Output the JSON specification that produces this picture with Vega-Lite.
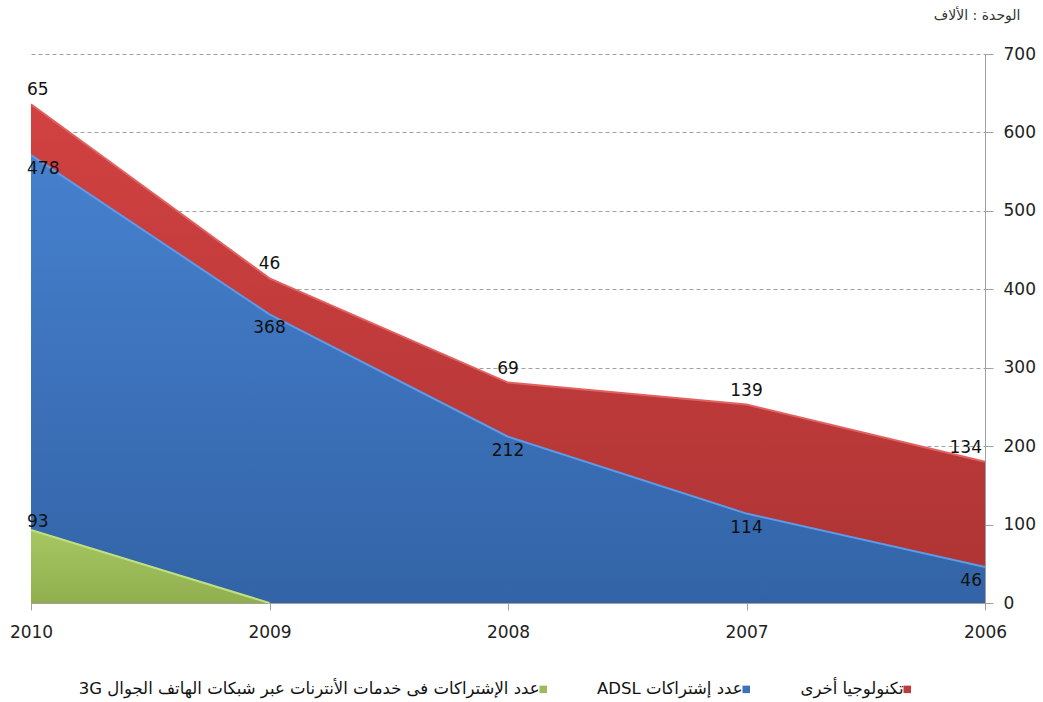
{
  "$schema": "https://vega.github.io/schema/vega-lite/v6.json",
  "autosize": "none",
  "width": 954,
  "height": 549,
  "padding": {"left": 31, "top": 54, "right": 58, "bottom": 99},
  "background": "white",
  "title": {
    "text": "\u202Bالوحدة : الألاف\u202C",
    "anchor": "end",
    "orient": "top",
    "offset": 22,
    "dx": -15,
    "fontSize": 14,
    "fontWeight": "normal",
    "font": "DejaVu Sans",
    "color": "#333333"
  },
  "config": {
    "view": {"stroke": null},
    "font": "DejaVu Sans"
  },
  "data": {
    "values": [
      {"year": 2010, "series": "عدد الإشتراكات فى خدمات الأنترنات عبر شبكات الهاتف الجوال 3G", "value": 93},
      {"year": 2010, "series": "عدد إشتراكات ADSL", "value": 478},
      {"year": 2010, "series": "تكنولوجيا أخرى", "value": 65},
      {"year": 2009, "series": "عدد الإشتراكات فى خدمات الأنترنات عبر شبكات الهاتف الجوال 3G", "value": 0},
      {"year": 2009, "series": "عدد إشتراكات ADSL", "value": 368},
      {"year": 2009, "series": "تكنولوجيا أخرى", "value": 46},
      {"year": 2008, "series": "عدد إشتراكات ADSL", "value": 212},
      {"year": 2008, "series": "تكنولوجيا أخرى", "value": 69},
      {"year": 2007, "series": "عدد إشتراكات ADSL", "value": 114},
      {"year": 2007, "series": "تكنولوجيا أخرى", "value": 139},
      {"year": 2006, "series": "عدد إشتراكات ADSL", "value": 46},
      {"year": 2006, "series": "تكنولوجيا أخرى", "value": 134}
    ]
  },
  "transform": [
    {"stack": "value", "groupby": ["year"], "as": ["y0", "y1"]}
  ],
  "encoding": {
    "x": {
      "field": "year",
      "type": "quantitative",
      "scale": {"domain": [2006, 2010], "reverse": true, "nice": false, "zero": false},
      "axis": {
        "title": null,
        "values": [2010, 2009, 2008, 2007, 2006],
        "format": "d",
        "grid": false,
        "labelFlush": false,
        "domainColor": "#A0A0A0",
        "tickColor": "#A0A0A0",
        "tickSize": 7,
        "labelPadding": 14,
        "labelFontSize": 17,
        "labelColor": "#222222",
        "labelFont": "DejaVu Sans"
      }
    },
    "y": {
      "field": "y1",
      "type": "quantitative",
      "scale": {"domain": [0, 700], "nice": false},
      "axis": {
        "title": null,
        "orient": "right",
        "values": [0, 100, 200, 300, 400, 500, 600, 700],
        "grid": true,
        "gridDash": [4, 3],
        "gridColor": "#A0A0A0",
        "domainColor": "#A0A0A0",
        "tickColor": "#A0A0A0",
        "tickSize": 8,
        "labelPadding": 10,
        "labelFontSize": 17,
        "labelColor": "#222222",
        "labelFont": "DejaVu Sans"
      }
    }
  },
  "layer": [
    {
      "mark": {"type": "area", "opacity": 1},
      "encoding": {
        "y2": {"field": "y0"},
        "color": {
          "field": "series",
          "type": "nominal",
          "scale": {
            "domain": ["عدد الإشتراكات فى خدمات الأنترنات عبر شبكات الهاتف الجوال 3G", "عدد إشتراكات ADSL", "تكنولوجيا أخرى"],
            "range": ["#9BBB59", "#3C72BC", "#C23B3B"]
          },
          "legend": {
            "title": null,
            "orient": "none",
            "legendX": 504,
            "legendY": 627,
            "direction": "horizontal",
            "symbolType": "square",
            "symbolSize": 56,
            "symbolStrokeWidth": 0,
            "labelFontSize": 16.5,
            "labelFont": "DejaVu Sans",
            "labelColor": "#111111",
            "labelAlign": "right",
            "labelOffset": -12,
            "labelLimit": 700,
            "columnPadding": 50,
            "labelExpr": "'\u202B' + datum.label + '\u202C'"
          }
        }
      }
    },
    {
      "transform": [{"filter": "datum.series == 'تكنولوجيا أخرى'"}],
      "mark": {"type": "area", "color": {"gradient": "linear", "x1": 0, "y1": 0, "x2": 0, "y2": 1, "stops": [{"offset": 0, "color": "#D84444"}, {"offset": 1, "color": "#A83232"}]},
        "line": {"color": "#E26262", "strokeWidth": 2}},
      "encoding": {"y2": {"field": "y0"}}
    },
    {
      "transform": [{"filter": "datum.series == 'عدد إشتراكات ADSL'"}],
      "mark": {"type": "area", "color": {"gradient": "linear", "x1": 0, "y1": 0, "x2": 0, "y2": 1, "stops": [{"offset": 0, "color": "#4A87D6"}, {"offset": 1, "color": "#2E5D9D"}]},
        "line": {"color": "#5C9BEA", "strokeWidth": 2}},
      "encoding": {"y2": {"field": "y0"}}
    },
    {
      "transform": [{"filter": "datum.series == 'عدد الإشتراكات فى خدمات الأنترنات عبر شبكات الهاتف الجوال 3G'"}],
      "mark": {"type": "area", "color": {"gradient": "linear", "x1": 0, "y1": 0, "x2": 0, "y2": 1, "stops": [{"offset": 0, "color": "#AACD66"}, {"offset": 1, "color": "#8CA949"}]},
        "line": {"color": "#C0E080", "strokeWidth": 2}},
      "encoding": {"y2": {"field": "y0"}}
    },
    {
      "transform": [{"filter": "datum.value > 0"}],
      "mark": {
        "type": "text",
        "fontSize": 17,
        "font": "DejaVu Sans",
        "color": "#111111",
        "baseline": "middle",
        "align": {"expr": "datum.year == 2010 ? 'left' : (datum.year == 2006 ? 'right' : 'center')"},
        "dx": {"expr": "datum.year == 2010 ? -4 : (datum.year == 2006 ? -3 : 0)"},
        "dy": {"expr": "datum.series == 'تكنولوجيا أخرى' ? -14 : (datum.series == 'عدد إشتراكات ADSL' ? 14 : -8)"}
      },
      "encoding": {
        "text": {"field": "value", "type": "quantitative"}
      }
    }
  ]
}
